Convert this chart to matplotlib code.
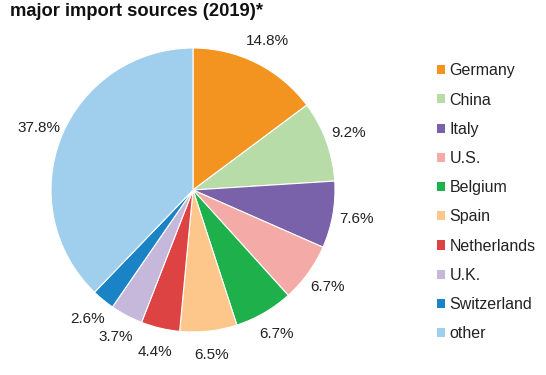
import numpy as np
import matplotlib
matplotlib.use('Agg')
from matplotlib import pyplot as plt
from matplotlib.patches import Patch

# data
countries = ['Germany', 'China', 'Italy', 'U.S.', 'Belgium', 'Spain',
             'Netherlands', 'U.K.', 'Switzerland', 'other']
shares = [14.8, 9.2, 7.6, 6.7, 6.7, 6.5, 4.4, 3.7, 2.6, 37.8]
colors = ['#F39420', '#B7DCA8', '#7A62AA', '#F4AAA7', '#1DB04B',
          '#FDC68B', '#DD4343', '#C5B8DA', '#1A83C6', '#A0CFEE']
title = 'major import sources (2019)*'

plt.rcParams['font.family'] = ['Liberation Sans', 'DejaVu Sans']

fig = plt.figure(figsize=(5.46, 3.75), dpi=100)

# pie centre ~ (193, 190) px, radius ~142 px
W, H = 546, 375
cx, cy, r = 193, 190, 142
ax = fig.add_axes([(cx - r) / W, (H - cy - r) / H, 2 * r / W, 2 * r / H])

wedges, texts, autotexts = ax.pie(
    shares, colors=colors, startangle=90, counterclock=False,
    autopct='%1.1f%%', pctdistance=1.17,
    wedgeprops=dict(edgecolor='white', linewidth=0.8),
    textprops=dict(fontsize=11, color='#222222'))
ax.set_xlim(-1, 1)
ax.set_ylim(-1, 1)
ax.set_aspect('equal')
ax.axis('off')

fig.text(10 / W, 1 - 3 / H, title, fontsize=13.2, fontweight='bold',
         ha='left', va='top', color='#111111')

handles = [Patch(facecolor=c, edgecolor='none') for c in colors]
fig.legend(handles, countries, loc='upper left',
           bbox_to_anchor=(423 / W, 1 - 49 / H), frameon=False,
           fontsize=11.5, handlelength=0.5, handleheight=0.5,
           handletextpad=0.25, labelspacing=0.89, labelcolor='#222222')

fig.savefig('out.png', dpi=100)
